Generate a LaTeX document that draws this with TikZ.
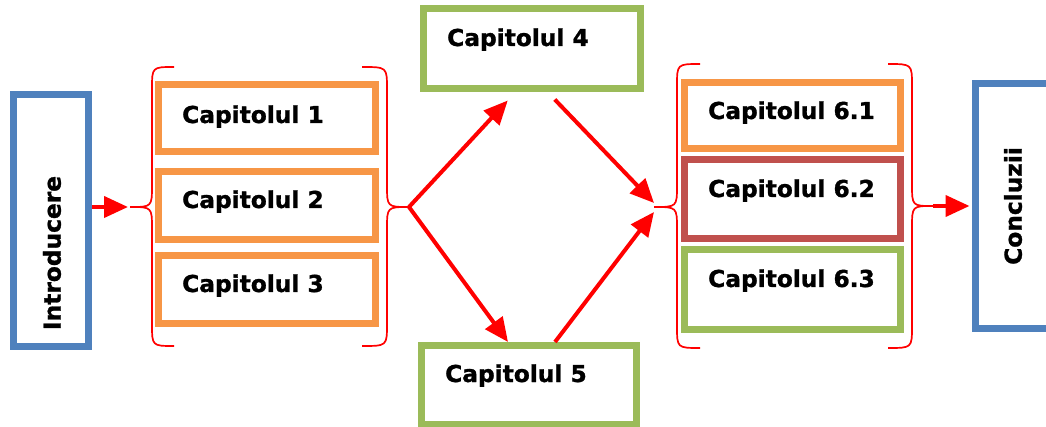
\documentclass[tikz,border=0pt]{standalone}
\usepackage{fontspec}
\setmainfont[BoldFeatures={FakeBold=1.2}]{DejaVu Sans}
\usetikzlibrary{arrows.meta}
\definecolor{boxblue}{HTML}{4F81BD}
\definecolor{boxorange}{HTML}{F79646}
\definecolor{boxgreen}{HTML}{9BBB59}
\definecolor{boxbrick}{HTML}{C0504D}
\tikzset{
  frame/.style={draw, line width=7pt, inner sep=0pt},
  lbl/.style={anchor=base west, inner sep=0pt, font=\fontsize{23.3}{28}\selectfont\bfseries},
  vlbl/.style={inner sep=0pt, rotate=90, font=\fontsize{23.3}{28}\selectfont\bfseries},
  flow/.style={draw=red, line width=4pt, arrows={-Triangle[length=24pt,width=21pt]}},
  brace/.style={draw=red, line width=1.7pt},
}
\begin{document}
\begin{tikzpicture}[x=1pt,y=-1pt]
\useasboundingbox (0,0) rectangle (1046,427);

% frames
\node[frame, draw=boxblue, minimum width=75pt, minimum height=251pt] (intro) at (51,220.5) {};
\node[frame, draw=boxorange, minimum width=216.5pt, minimum height=67pt] (c1) at (266.75,118.5) {};
\node[frame, draw=boxorange, minimum width=216.5pt, minimum height=68pt] (c2) at (266.75,205.5) {};
\node[frame, draw=boxorange, minimum width=216.5pt, minimum height=67.5pt] (c3) at (266.75,289.75) {};
\node[frame, draw=boxgreen, minimum width=216.5pt, minimum height=79.5pt] (c4) at (531.75,48.75) {};
\node[frame, draw=boxgreen, minimum width=215pt, minimum height=78.5pt] (c5) at (529,384.75) {};
\node[frame, draw=boxorange, minimum width=216pt, minimum height=66.5pt] (c61) at (792,115.75) {};
\node[frame, draw=boxbrick, minimum width=216pt, minimum height=79pt] (c62) at (792,199.5) {};
\node[frame, draw=boxgreen, minimum width=216pt, minimum height=80.5pt] (c63) at (792,289.75) {};
\node[frame, draw=boxblue, minimum width=76pt, minimum height=244.5pt] (concl) at (1013,206.25) {};

% labels
\node[vlbl] (tintro) at (52,253) {Introducere};
\node[lbl] (t1) at (182,123) {Capitolul 1};
\node[lbl] (t2) at (182,208) {Capitolul 2};
\node[lbl] (t3) at (182,292) {Capitolul 3};
\node[lbl] (t4) at (447,46) {Capitolul 4};
\node[lbl] (t5) at (445,382) {Capitolul 5};
\node[lbl] (t61) at (708,119) {Capitolul 6.1};
\node[lbl] (t62) at (708,197) {Capitolul 6.2};
\node[lbl] (t63) at (708,287) {Capitolul 6.3};
\node[vlbl] (tconcl) at (1013,206) {Concluzii};

% brace tips
\coordinate (ta) at (130,207);
\coordinate (tb) at (409,207);
\coordinate (tc) at (654,207);
\coordinate (td) at (933,206);

% braces
\draw[brace] (174,67) .. controls (152,67) .. (152,89) -- (152,185)
  .. controls (152,207) .. (ta) .. controls (152,207) .. (152,229)
  -- (152,324) .. controls (152,346) .. (174,346);
\draw[brace] (362,67) .. controls (387,67) .. (387,89) -- (387,185)
  .. controls (387,207) .. (tb) .. controls (387,207) .. (387,229)
  -- (387,324) .. controls (387,346) .. (362,346);
\draw[brace] (700,64) .. controls (677,64) .. (677,86) -- (677,185)
  .. controls (677,207) .. (tc) .. controls (677,207) .. (677,229)
  -- (677,326) .. controls (677,348) .. (700,348);
\draw[brace] (888,64) .. controls (912,64) .. (912,86) -- (912,184)
  .. controls (912,206) .. (td) .. controls (912,206) .. (912,228)
  -- (912,326) .. controls (912,348) .. (888,348);

% connectors
\draw[flow] (intro.east |- ta) -- ([xshift=-2pt]ta);
\draw[flow] (tb) -- ([xshift=-24pt,yshift=-8.5pt]c4.south);
\draw[flow] (tb) -- ([xshift=-21pt]c5.north);
\draw[flow] ([xshift=23pt,yshift=-7.5pt]c4.south) -- ([yshift=4pt]tc);
\draw[flow] ([xshift=26pt]c5.north) -- ([yshift=-5pt]tc);
\draw[flow] (td) -- ([xshift=-2pt]concl.west |- td);
\end{tikzpicture}
\end{document}
